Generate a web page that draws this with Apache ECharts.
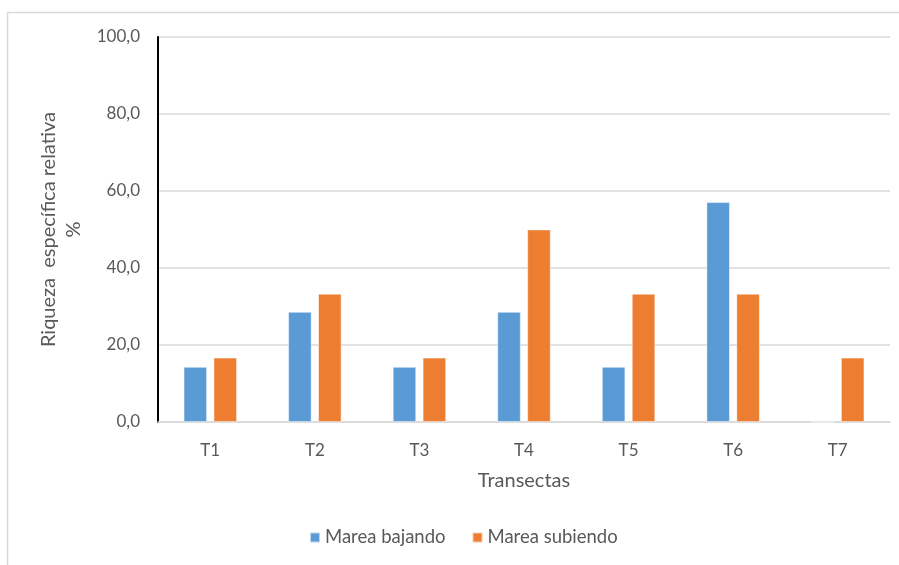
<!DOCTYPE html>
<html>
<head>
<meta charset="utf-8">
<script src="https://cdn.jsdelivr.net/npm/echarts@6/dist/echarts.min.js"></script>
<style>
  html, body { margin: 0; padding: 0; background: #ffffff; }
  #chart { width: 899px; height: 565px; }
</style>
</head>
<body>
<div id="chart"></div>
<script>
// Transect categories and relative species richness (%) per tide state
const categories = ['T1', 'T2', 'T3', 'T4', 'T5', 'T6', 'T7'];
const mareaBajando = [14.3, 28.6, 14.3, 28.6, 14.3, 57.1, 0];
const mareaSubiendo = [16.7, 33.3, 16.7, 50.0, 33.3, 33.3, 16.7];
const seriesNames = ['Marea bajando', 'Marea subiendo'];
const yAxisTitle = 'Riqueza  específica relativa\n%';
const xAxisTitle = 'Transectas';

const FONT = 'Lato, "Open Sans", sans-serif';
const TEXT = '#595959';

const chart = echarts.init(document.getElementById('chart'), null, { renderer: 'canvas' });

chart.setOption({
  backgroundColor: '#ffffff',
  animation: false,
  textStyle: { fontFamily: FONT },
  graphic: [
    {
      // outer chart-area frame
      type: 'rect',
      shape: { x: 7.5, y: 12.5, width: 1000, height: 1000 },
      style: { fill: 'none', stroke: '#d9d9d9', lineWidth: 1.5 },
      silent: true
    }
  ],
  grid: { left: 158, right: 9, top: 37, bottom: 143, containLabel: false },
  legend: {
    bottom: 13,
    left: 304,
    itemWidth: 10,
    itemHeight: 10,
    itemGap: 26,
    icon: 'rect',
    textStyle: { color: TEXT, fontSize: 18.5, fontFamily: FONT },
    data: seriesNames
  },
  xAxis: {
    type: 'category',
    data: categories,
    name: xAxisTitle,
    nameLocation: 'middle',
    nameGap: 49,
    nameTextStyle: { color: TEXT, fontSize: 20, fontFamily: FONT },
    axisLine: { show: true, lineStyle: { color: '#d9d9d9', width: 1.5 } },
    axisTick: { show: false },
    axisLabel: { color: TEXT, fontSize: 17, margin: 20, fontFamily: FONT }
  },
  yAxis: {
    type: 'value',
    min: 0,
    max: 100,
    interval: 20,
    name: yAxisTitle,
    nameLocation: 'middle',
    nameRotate: 90,
    nameGap: 72,
    nameTextStyle: { color: TEXT, fontSize: 20, lineHeight: 25, fontFamily: FONT, align: 'center' },
    axisLine: { show: true, onZero: false, lineStyle: { color: '#000000', width: 2 } },
    axisTick: { show: false },
    axisLabel: {
      color: TEXT,
      fontSize: 17,
      margin: 18,
      fontFamily: FONT,
      formatter: v => v.toFixed(1).replace('.', ',')
    },
    splitLine: { show: true, lineStyle: { color: '#d9d9d9', width: 1.5 } }
  },
  series: [
    {
      name: seriesNames[0],
      type: 'bar',
      data: mareaBajando,
      barGap: '28%',
      barCategoryGap: '49%',
      itemStyle: { color: '#5b9bd5', borderColor: 'rgba(255,255,255,0.6)', borderWidth: 0.8 }
    },
    {
      name: seriesNames[1],
      type: 'bar',
      data: mareaSubiendo,
      barGap: '28%',
      barCategoryGap: '49%',
      itemStyle: { color: '#ed7d31', borderColor: 'rgba(255,255,255,0.6)', borderWidth: 0.8 }
    }
  ]
});
</script>
</body>
</html>
